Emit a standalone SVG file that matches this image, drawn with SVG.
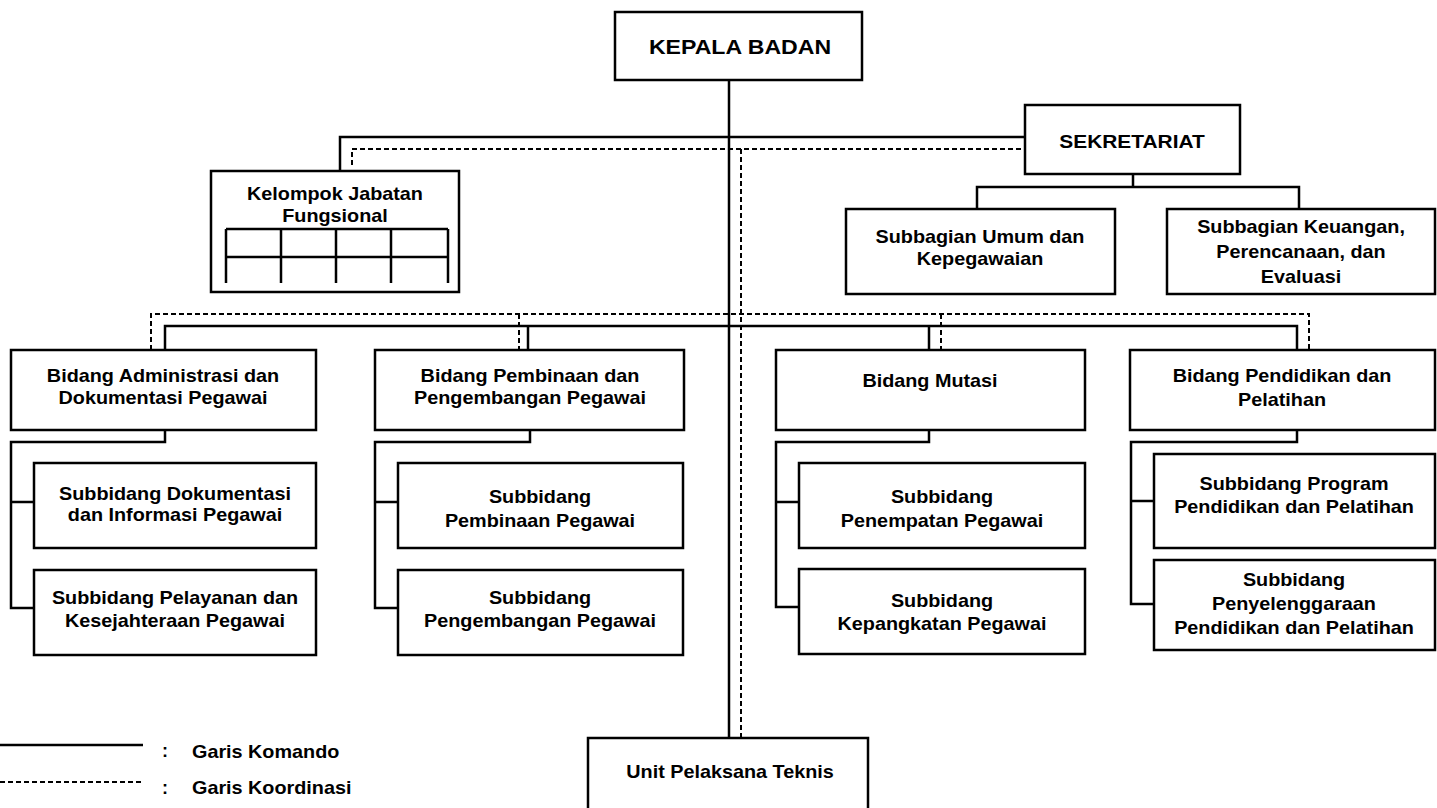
<svg xmlns="http://www.w3.org/2000/svg" width="1437" height="808" viewBox="0 0 1437 808">
<style>
.box{fill:#fff;stroke:#000;stroke-width:2.5}
.cmd{fill:none;stroke:#000;stroke-width:2.5}
.crd{fill:none;stroke:#000;stroke-width:2;stroke-dasharray:5 3}
.t{font-family:"Liberation Sans",Arial,sans-serif;font-weight:bold;font-size:18px;text-anchor:middle;fill:#000}
.big{font-size:19px}
.top{font-size:21px}
.l{font-family:"Liberation Sans",Arial,sans-serif;font-weight:bold;font-size:18px;fill:#000}
</style>
<rect width="1437" height="808" fill="#fff"/>
<g id="connectors">
<path class="cmd" d="M729 80V738 M340 171V137H1025 M1133 174V187 M977 209V187H1299V209 M165 350V326H1297V350 M528 326V350 M929 326V350"/>
<path class="cmd" d="M165 430V442H11V608H34 M11 502H34 M530 430V442H375V608H398 M375 502H398 M929 430V442H776V607H799 M776 502H799 M1297 430V442H1131V604H1154 M1131 501H1154"/>
<path class="crd" d="M352 165V149H1025 M741 149V738 M151 350V314H1309V350 M519 314V350 M941 314V350"/>
</g>
<g id="kepala-badan"><rect class="box" x="615" y="12" width="247" height="68"/><text class="t top" transform="translate(740 54) scale(1.1 1)">KEPALA BADAN</text></g>
<g id="sekretariat"><rect class="box" x="1025" y="105" width="215" height="69"/><text class="t big" transform="translate(1132 148) scale(1.1 1)">SEKRETARIAT</text></g>
<g id="kelompok-jabatan-fungsional"><rect class="box" x="211" y="171" width="248" height="121"/><path class="cmd" d="M226 229H448 M226 257H448 M226 229V283 M281 229V283 M336 229V283 M391 229V283 M448 229V283"/><text class="t" transform="translate(335 200) scale(1.1 1)"><tspan x="0">Kelompok Jabatan</tspan><tspan x="0" dy="22">Fungsional</tspan></text></g>
<g id="subbagian-umum"><rect class="box" x="846" y="209" width="269" height="85"/><text class="t" transform="translate(980 243) scale(1.1 1)"><tspan x="0">Subbagian Umum dan</tspan><tspan x="0" dy="22">Kepegawaian</tspan></text></g>
<g id="subbagian-keuangan"><rect class="box" x="1167" y="209" width="268" height="85"/><text class="t" transform="translate(1301 233) scale(1.1 1)"><tspan x="0">Subbagian Keuangan,</tspan><tspan x="0" dy="25">Perencanaan, dan</tspan><tspan x="0" dy="25">Evaluasi</tspan></text></g>
<g id="bidang-administrasi"><rect class="box" x="11" y="350" width="305" height="80"/><text class="t" transform="translate(163 382) scale(1.1 1)"><tspan x="0">Bidang Administrasi dan</tspan><tspan x="0" dy="22">Dokumentasi Pegawai</tspan></text></g>
<g id="bidang-pembinaan"><rect class="box" x="375" y="350" width="309" height="80"/><text class="t" transform="translate(530 382) scale(1.1 1)"><tspan x="0">Bidang Pembinaan dan</tspan><tspan x="0" dy="22">Pengembangan Pegawai</tspan></text></g>
<g id="bidang-mutasi"><rect class="box" x="776" y="350" width="309" height="80"/><text class="t" transform="translate(930 387) scale(1.1 1)">Bidang Mutasi</text></g>
<g id="bidang-pendidikan"><rect class="box" x="1130" y="350" width="305" height="80"/><text class="t" transform="translate(1282 382) scale(1.1 1)"><tspan x="0">Bidang Pendidikan dan</tspan><tspan x="0" dy="24">Pelatihan</tspan></text></g>
<g id="subbidang-dokumentasi"><rect class="box" x="34" y="463" width="282" height="85"/><text class="t" transform="translate(175 500) scale(1.1 1)"><tspan x="0">Subbidang Dokumentasi</tspan><tspan x="0" dy="21">dan Informasi Pegawai</tspan></text></g>
<g id="subbidang-pelayanan"><rect class="box" x="34" y="570" width="282" height="85"/><text class="t" transform="translate(175 604) scale(1.1 1)"><tspan x="0">Subbidang Pelayanan dan</tspan><tspan x="0" dy="23">Kesejahteraan Pegawai</tspan></text></g>
<g id="subbidang-pembinaan"><rect class="box" x="398" y="463" width="285" height="85"/><text class="t" transform="translate(540 503) scale(1.1 1)"><tspan x="0">Subbidang</tspan><tspan x="0" dy="24">Pembinaan Pegawai</tspan></text></g>
<g id="subbidang-pengembangan"><rect class="box" x="398" y="570" width="285" height="85"/><text class="t" transform="translate(540 604) scale(1.1 1)"><tspan x="0">Subbidang</tspan><tspan x="0" dy="23">Pengembangan Pegawai</tspan></text></g>
<g id="subbidang-penempatan"><rect class="box" x="799" y="463" width="286" height="85"/><text class="t" transform="translate(942 503) scale(1.1 1)"><tspan x="0">Subbidang</tspan><tspan x="0" dy="24">Penempatan Pegawai</tspan></text></g>
<g id="subbidang-kepangkatan"><rect class="box" x="799" y="569" width="286" height="85"/><text class="t" transform="translate(942 607) scale(1.1 1)"><tspan x="0">Subbidang</tspan><tspan x="0" dy="23">Kepangkatan Pegawai</tspan></text></g>
<g id="subbidang-program"><rect class="box" x="1154" y="454" width="281" height="94"/><text class="t" transform="translate(1294 490) scale(1.1 1)"><tspan x="0">Subbidang Program</tspan><tspan x="0" dy="23">Pendidikan dan Pelatihan</tspan></text></g>
<g id="subbidang-penyelenggaraan"><rect class="box" x="1154" y="560" width="281" height="90"/><text class="t" transform="translate(1294 586) scale(1.1 1)"><tspan x="0">Subbidang</tspan><tspan x="0" dy="24">Penyelenggaraan</tspan><tspan x="0" dy="24">Pendidikan dan Pelatihan</tspan></text></g>
<g id="unit-pelaksana-teknis"><rect class="box" x="588" y="738" width="280" height="80"/><text class="t" transform="translate(730 778) scale(1.1 1)">Unit Pelaksana Teknis</text></g>
<g id="legend">
<path class="cmd" d="M0 745H143"/>
<path class="crd" d="M0 782H143"/>
<text class="l" x="162" y="757">:</text>
<text class="l" x="162" y="794">:</text>
<text class="l" transform="translate(192 758) scale(1.1 1)">Garis Komando</text>
<text class="l" transform="translate(192 794) scale(1.1 1)">Garis Koordinasi</text>
</g>
</svg>
